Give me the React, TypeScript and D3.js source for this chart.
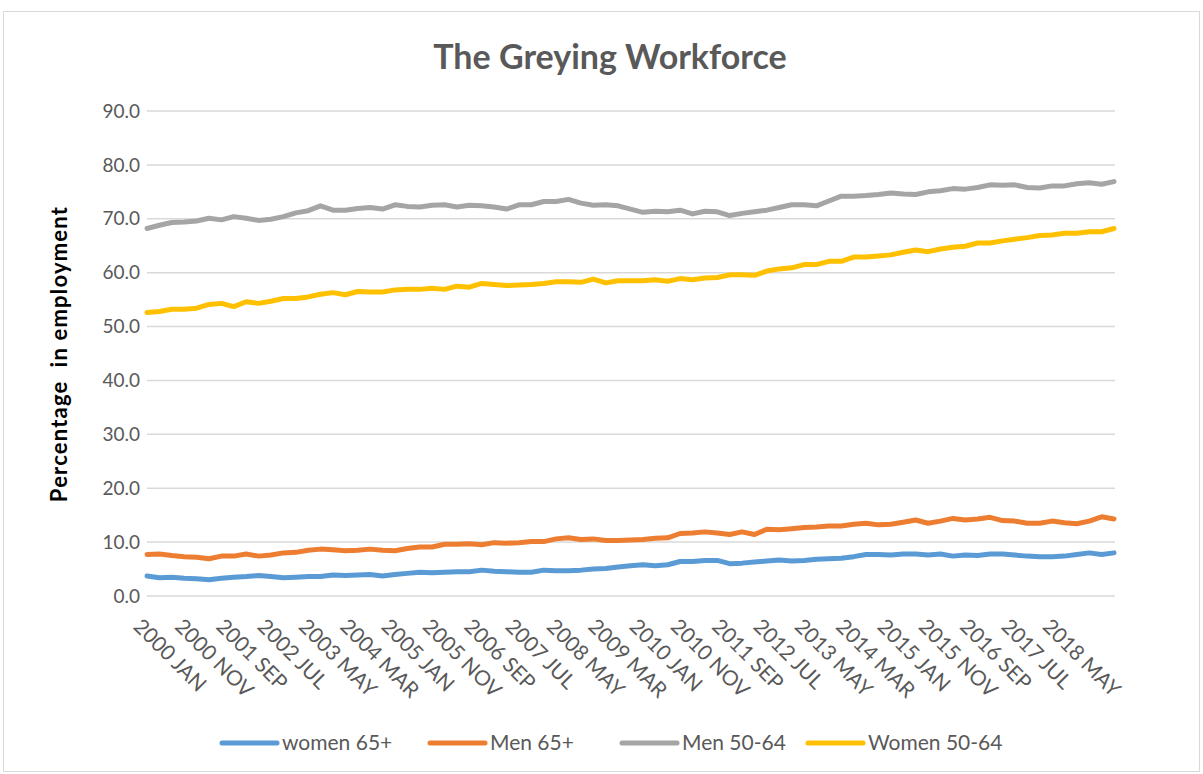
import React from 'react'
import * as d3 from 'd3'

// quarterly readings (every 3 months from 2000 JAN)
const women65 = [
  3.7, 3.4, 3.5, 3.3, 3.2, 3.0, 3.3, 3.5, 3.6, 3.8, 3.6, 3.4, 3.5, 3.6, 3.6, 3.9,
  3.8, 3.9, 4.0, 3.7, 4.0, 4.2, 4.4, 4.3, 4.4, 4.5, 4.5, 4.8, 4.6, 4.5, 4.4, 4.4,
  4.8, 4.7, 4.7, 4.8, 5.0, 5.1, 5.4, 5.6, 5.8, 5.6, 5.8, 6.4, 6.4, 6.6, 6.6, 6.0,
  6.1, 6.3, 6.5, 6.7, 6.5, 6.6, 6.8, 6.9, 7.0, 7.3, 7.7, 7.7, 7.6, 7.8, 7.8, 7.6,
  7.8, 7.4, 7.6, 7.5, 7.8, 7.8, 7.6, 7.4, 7.3, 7.3, 7.4, 7.7, 8.0, 7.7, 8.0,
]
const men65 = [
  7.7, 7.8, 7.5, 7.3, 7.2, 6.9, 7.4, 7.4, 7.8, 7.4, 7.6, 8.0, 8.1, 8.5, 8.7, 8.6,
  8.4, 8.5, 8.7, 8.5, 8.4, 8.8, 9.1, 9.1, 9.6, 9.6, 9.7, 9.5, 9.9, 9.8, 9.9, 10.1,
  10.1, 10.6, 10.8, 10.5, 10.6, 10.3, 10.3, 10.4, 10.5, 10.7, 10.8, 11.6, 11.7, 11.9, 11.7, 11.4,
  11.9, 11.4, 12.4, 12.3, 12.5, 12.7, 12.8, 13.0, 13.0, 13.3, 13.5, 13.2, 13.3, 13.7, 14.1, 13.5,
  13.9, 14.4, 14.1, 14.3, 14.6, 14.0, 13.9, 13.5, 13.5, 13.9, 13.6, 13.4, 13.9, 14.7, 14.3,
]
const men5064 = [
  68.2, 68.8, 69.3, 69.4, 69.6, 70.1, 69.8, 70.4, 70.1, 69.7, 69.9, 70.4, 71.1, 71.5, 72.4, 71.6,
  71.6, 71.9, 72.1, 71.8, 72.6, 72.3, 72.2, 72.5, 72.6, 72.2, 72.5, 72.4, 72.2, 71.8, 72.6, 72.6,
  73.2, 73.2, 73.6, 72.9, 72.5, 72.6, 72.4, 71.8, 71.2, 71.4, 71.3, 71.6, 70.9, 71.4, 71.3, 70.6,
  71.0, 71.3, 71.6, 72.1, 72.6, 72.6, 72.4, 73.3, 74.2, 74.2, 74.3, 74.5, 74.8, 74.6, 74.5, 75.0,
  75.2, 75.6, 75.5, 75.8, 76.3, 76.2, 76.3, 75.8, 75.7, 76.1, 76.1, 76.5, 76.7, 76.4, 76.9,
]
const women5064 = [
  52.6, 52.8, 53.2, 53.2, 53.4, 54.1, 54.3, 53.7, 54.6, 54.3, 54.7, 55.2, 55.2, 55.5, 56.0, 56.3,
  55.9, 56.5, 56.4, 56.4, 56.8, 56.9, 56.9, 57.1, 56.9, 57.5, 57.3, 58.0, 57.8, 57.6, 57.7, 57.8,
  58.0, 58.3, 58.3, 58.2, 58.8, 58.1, 58.5, 58.5, 58.5, 58.7, 58.4, 58.9, 58.7, 59.0, 59.1, 59.6,
  59.6, 59.5, 60.3, 60.7, 60.9, 61.5, 61.5, 62.1, 62.1, 62.9, 62.9, 63.1, 63.3, 63.8, 64.2, 63.9,
  64.4, 64.7, 64.9, 65.5, 65.5, 65.9, 66.2, 66.5, 66.9, 67.0, 67.3, 67.3, 67.6, 67.6, 68.2,
]

const seriesNames = ['women 65+', 'Men 65+', 'Men 50-64', 'Women 50-64']
const seriesColors = ['#5B9BD5', '#ED7D31', '#A5A5A5', '#FFC000']
const seriesValues = [women65, men65, men5064, women5064]

const tickLabels = [
  '2000 JAN', '2000 NOV', '2001 SEP', '2002 JUL', '2003 MAY', '2004 MAR', '2005 JAN', '2005 NOV',
  '2006 SEP', '2007 JUL', '2008 MAY', '2009 MAR', '2010 JAN', '2010 NOV', '2011 SEP', '2012 JUL',
  '2013 MAY', '2014 MAR', '2015 JAN', '2015 NOV', '2016 SEP', '2017 JUL', '2018 MAY',
]
const yTicks = [0, 10, 20, 30, 40, 50, 60, 70, 80, 90]
const monthNames = ['JAN', 'FEB', 'MAR', 'APR', 'MAY', 'JUN', 'JUL', 'AUG', 'SEP', 'OCT', 'NOV', 'DEC']

const FONT = 'Lato, "Open Sans", sans-serif'

export default function App() {
  const width = 1203
  const height = 774
  const x = d3.scaleLinear().domain([0, 234]).range([147, 1114])
  const y = d3.scaleLinear().domain([0, 90]).range([596, 111])

  const line = d3.line<number>()
    .x((_, i) => x(i * 3))
    .y(d => y(d))

  const monthIndex = (label: string) => {
    const [yr, mo] = label.split(' ')
    return (+yr - 2000) * 12 + monthNames.indexOf(mo)
  }

  const legendX = [222, 430, 622, 808]

  return (
    <svg width={width} height={height} style={{ position: 'absolute', left: 0, top: 0, background: '#fff' }}>
      <rect x={3.5} y={11.5} width={1196} height={760} fill="#fff" stroke="#d9d9d9" strokeWidth={1} />
      <text x={610} y={69} textAnchor="middle" fontFamily={FONT} fontWeight="bold" fontSize={34} fill="#595959">
        The Greying Workforce
      </text>

      {yTicks.map(t => (
        <g key={t}>
          <line x1={147} x2={1115} y1={y(t)} y2={y(t)} stroke="#d9d9d9" strokeWidth={1.5} />
          <text x={140} y={y(t)} dy="0.35em" textAnchor="end" fontFamily={FONT} fontSize={19} fill="#595959">
            {t.toFixed(1)}
          </text>
        </g>
      ))}

      <text transform="translate(67, 354) rotate(-90)" textAnchor="middle" fontFamily={FONT}
        fontWeight="bold" fontSize={22} letterSpacing={1.2} fill="#000" style={{ whiteSpace: 'pre' }}>
        {'Percentage  in employment'}
      </text>

      {tickLabels.map(l => (
        <text key={l} transform={`translate(${x(monthIndex(l)) - 4}, 617) rotate(45)`} dy="0.72em"
          fontFamily={FONT} fontSize={21} fill="#595959">
          {l}
        </text>
      ))}

      {seriesValues.map((vals, i) => (
        <path key={seriesNames[i]} d={line(vals) || ''} fill="none" stroke={seriesColors[i]}
          strokeWidth={5} strokeLinejoin="round" strokeLinecap="round" />
      ))}

      {seriesNames.map((n, i) => (
        <g key={n}>
          <line x1={legendX[i]} x2={legendX[i] + 55} y1={743} y2={743} stroke={seriesColors[i]} strokeWidth={5} strokeLinecap="round" />
          <text x={legendX[i] + 60} y={743} dy="0.35em" fontFamily={FONT} fontSize={21} fill="#595959">{n}</text>
        </g>
      ))}
    </svg>
  )
}
